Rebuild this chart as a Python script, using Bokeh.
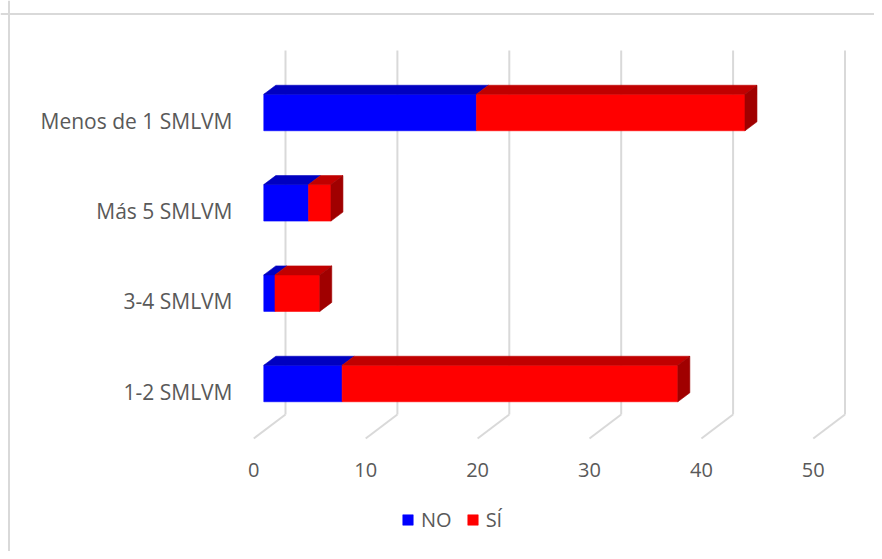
from bokeh.plotting import figure
from bokeh.models import Range1d, Legend, LegendItem, Span, ColumnDataSource
from bokeh.core.properties import value
from bokeh.embed import file_html
from bokeh.resources import INLINE

# ---------------- data ----------------
categories = ["1-2 SMLVM", "3-4 SMLVM", "Más 5 SMLVM", "Menos de 1 SMLVM"]
no_values = [7, 1, 4, 19]
si_values = [30, 4, 2, 24]
x_ticks = [0, 10, 20, 30, 40, 50]
series_names = ["NO", "SÍ"]

# ---------------- layout constants (pixels -> data units) ----------------
W, H = 874, 551
ORG = 0               # page offset of the canvas as observed
PX_X = 11.19          # px per value unit
PX_Y = 90.33          # px per category step
X0 = 253.3            # page x of value 0 on front plane
Y0 = 391.0            # page y of first category on front plane


def ux(px):
    return px / PX_X


def uy(px):
    return px / PX_Y


x_range = Range1d((ORG - X0) / PX_X, (ORG + W - X0) / PX_X)
y_range = Range1d((Y0 - ORG - H) / PX_Y, (Y0 - ORG) / PX_Y)

p = figure(width=W, height=H, x_range=x_range, y_range=y_range,
           x_axis_type=None, y_axis_type=None,
           output_backend="svg", toolbar_location=None, min_border=0)
p.grid.visible = False
p.outline_line_color = None
p.background_fill_color = "white"
p.border_fill_color = "white"

GRID = "#d9d9d9"
TXT = "#595959"

# chart border (top and left visible)
p.add_layout(Span(location=(Y0 - 13.5) / PX_Y, dimension="width", line_color=GRID, line_width=2))
p.add_layout(Span(location=(8.5 - X0) / PX_X, dimension="height", line_color=GRID, line_width=2))

# ---------------- 3D walls ----------------
WDX = ux(31.7)
WDY = uy(24)
floor_front = uy(Y0 - 438)
floor_back = floor_front + WDY
wall_top = uy(Y0 - 50)

p.segment(x0=[t + WDX for t in x_ticks], y0=[floor_back] * len(x_ticks),
          x1=[t + WDX for t in x_ticks], y1=[wall_top] * len(x_ticks),
          line_color=GRID, line_width=2)
p.segment(x0=x_ticks, y0=[floor_front] * len(x_ticks),
          x1=[t + WDX for t in x_ticks], y1=[floor_back] * len(x_ticks),
          line_color=GRID, line_width=2)

# ---------------- bars ----------------
OX = ux(10)
OY = uy(8)
BH = uy(36.5)
BDX = ux(12)
BDY = uy(9)

ypos = list(range(len(categories)))
no_start = [0] * len(categories)
no_end = no_values
si_start = no_values
si_end = [a + b for a, b in zip(no_values, si_values)]

styles = {
    "NO": dict(front="#0000FF", top="#0000C0", side="#0000A0"),
    "SÍ": dict(front="#FF0000", top="#C00000", side="#A00000"),
}

renderers = {}
for name, starts, ends in [("NO", no_start, no_end), ("SÍ", si_start, si_end)]:
    st = styles[name]
    bottoms = [y + OY - BH / 2 for y in ypos]
    tops = [y + OY + BH / 2 for y in ypos]
    src = ColumnDataSource(dict(left=[s + OX for s in starts], right=[e + OX for e in ends],
                                bottom=bottoms, top=tops))
    r = p.quad(left="left", right="right", bottom="bottom", top="top", source=src,
               fill_color=st["front"], line_color=st["front"], line_width=0.6)
    renderers[name] = r
    # top faces
    xs = [[s + OX, e + OX, e + OX + BDX, s + OX + BDX] for s, e in zip(starts, ends)]
    ys = [[t, t, t + BDY, t + BDY] for t in tops]
    p.patches(xs=xs, ys=ys, fill_color=st["top"], line_color=st["top"], line_width=0.6)

# right side faces (end of the stacked bar)
side_xs, side_ys, side_cols = [], [], []
for i, y in enumerate(ypos):
    e = si_end[i]
    b = y + OY - BH / 2
    t = y + OY + BH / 2
    side_xs.append([e + OX, e + OX + BDX, e + OX + BDX, e + OX])
    side_ys.append([b, b + BDY, t + BDY, t])
    side_cols.append(styles["SÍ"]["side"] if si_values[i] > 0 else styles["NO"]["side"])
p.patches(xs=side_xs, ys=side_ys, fill_color=side_cols, line_color=side_cols, line_width=0.6)

# ---------------- labels ----------------
p.text(x=[ux(232 - X0)] * len(categories), y=ypos, text=categories,
       text_align="right", text_baseline="middle",
       text_font=value("Open Sans"), text_font_size="21px", text_color=TXT)

tick_y = uy(Y0 - 469)
p.text(x=x_ticks, y=[tick_y] * len(x_ticks), text=[str(t) for t in x_ticks],
       text_align="center", text_baseline="middle",
       text_font=value("Open Sans"), text_font_size="20px", text_color=TXT)

# ---------------- legend ----------------
legend = Legend(items=[LegendItem(label=series_names[0], renderers=[renderers["NO"]]),
                       LegendItem(label=series_names[1], renderers=[renderers["SÍ"]])],
                orientation="horizontal", location=(401 - ORG, H - (533 - ORG)),
                glyph_width=13, glyph_height=13, label_height=13, label_standoff=7,
                spacing=14, padding=0, margin=0, border_line_color=None,
                background_fill_alpha=0, label_text_font="Open Sans",
                label_text_font_size="20px", label_text_color=TXT,
                label_text_baseline="middle")
p.add_layout(legend)

open("out.html", "w").write(file_html(p, INLINE))
